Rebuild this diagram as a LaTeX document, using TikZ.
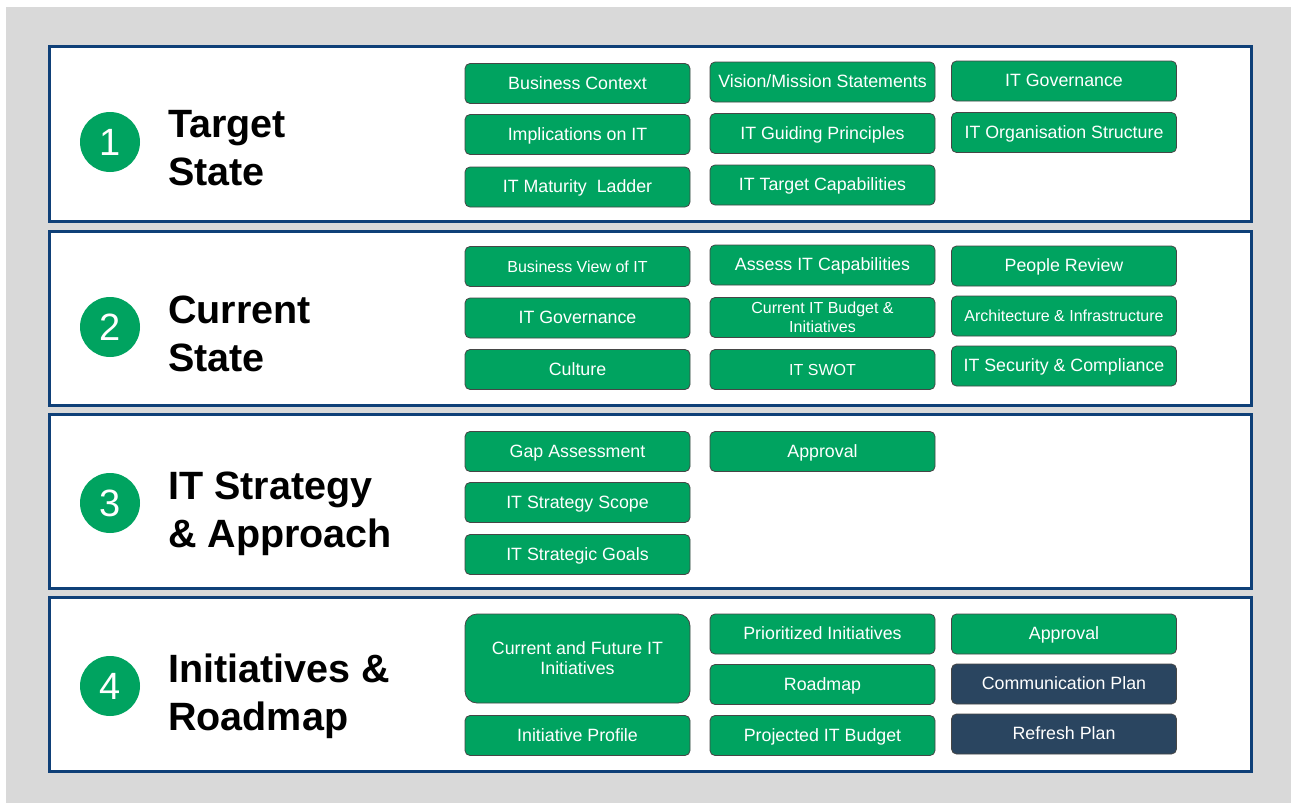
\documentclass[tikz,border=0pt]{standalone}
\usepackage{fontspec}
\setmainfont{Liberation Sans}
\usepackage{tikz}

\definecolor{bggray}{RGB}{217,217,217}
\definecolor{bandblue}{RGB}{15,64,120}
\definecolor{boxgreen}{RGB}{0,163,96}
\definecolor{boxnavy}{RGB}{42,69,96}
\definecolor{boxedge}{RGB}{70,70,70}

\begin{document}
\begin{tikzpicture}[x=1pt,y=-1pt,
		band/.style={draw=bandblue, line width=3pt, fill=white},
		num/.style={circle, fill=boxgreen, minimum size=60pt, inner sep=0pt, text=white, font=\fontsize{38}{38}\selectfont},
		ttl/.style={anchor=base west, inner sep=0pt, font=\fontsize{39.5}{48}\selectfont\bfseries},
		gbox/.style={draw=boxedge, line width=0.8pt, fill=boxgreen, rounded corners=5pt, minimum width=225pt, minimum height=40pt, inner sep=0pt, text=white, text height=12.5pt, text depth=1.5pt, font=\fontsize{17.8}{20}\selectfont},
		nbox/.style={gbox, fill=boxnavy},
		twoline/.style={align=center, text height=, text depth=},
		small/.style={font=\fontsize{16}{18.5}\selectfont}]
		  % background
		  \fill[white] (0,0) rectangle (1291,803);
		  \fill[bggray] (6,7) rectangle (1291,803);
		  % bands
		  \draw[band] (49,46) rectangle (1251,221);
		  \draw[band] (49,231) rectangle (1251,405);
		  \draw[band] (49,414) rectangle (1251,588);
		  \draw[band] (49,597) rectangle (1251,771);
		  % 1 target state
		  \node[num] (n1) at (110,142) {1};
		  \node[ttl] (t1a) at (168,137) {Target};
		  \node[ttl] (t1b) at (168,185) {State};
		  \node[gbox] (bc) at (577.5,83.5) {Business Context};
		  \node[gbox] (imp) at (577.5,134.5) {Implications on IT};
		  \node[gbox] (mat) at (577.5,187) {IT Maturity\ \ Ladder};
		  \node[gbox] (vis) at (822.5,82) {Vision/Mission Statements};
		  \node[gbox] (gp) at (822.5,133.5) {IT Guiding Principles};
		  \node[gbox] (tc) at (822.5,185) {IT Target Capabilities};
		  \node[gbox] (gov1) at (1064,81) {IT Governance};
		  \node[gbox] (org) at (1064,132.5) {IT Organisation Structure};
		  % 2 current state
		  \node[num] (n2) at (110,327) {2};
		  \node[ttl] (t2a) at (168,323) {Current};
		  \node[ttl] (t2b) at (168,371) {State};
		  \node[gbox, small] (bv) at (577.5,266.5) {Business View of IT};
		  \node[gbox] (gov2) at (577.5,318) {IT Governance};
		  \node[gbox] (cul) at (577.5,369.5) {Culture};
		  \node[gbox] (ac) at (822.5,265) {Assess IT Capabilities};
		  \node[gbox, small, twoline] (bud) at (822.5,317.5) {Current IT Budget \&\\Initiatives};
		  \node[gbox, small] (swot) at (822.5,369.5) {IT SWOT};
		  \node[gbox, small] (arch) at (1064,316) {Architecture \& Infrastructure};
		  \node[gbox] (ppl) at (1064,266) {People Review};
		  \node[gbox] (sec) at (1064,366) {IT Security \& Compliance};
		  % 3 it strategy
		  \node[num] (n3) at (110,503) {3};
		  \node[ttl] (t3a) at (168,499) {IT Strategy};
		  \node[ttl] (t3b) at (168,547) {\& Approach};
		  \node[gbox] (gap) at (577.5,451.5) {Gap Assessment};
		  \node[gbox] (scope) at (577.5,502.5) {IT Strategy Scope};
		  \node[gbox] (goals) at (577.5,554.5) {IT Strategic Goals};
		  \node[gbox] (appr3) at (822.5,451.5) {Approval};
		  % 4 initiatives
		  \node[num] (n4) at (110,686) {4};
		  \node[ttl] (t4a) at (168,682) {Initiatives \&};
		  \node[ttl] (t4b) at (168,730) {Roadmap};
		  \node[gbox, twoline, minimum height=89pt, rounded corners=12pt] (cfi) at (577.5,658.5) {Current and Future IT\\Initiatives};
		  \node[gbox] (prof) at (577.5,735.5) {Initiative Profile};
		  \node[gbox] (prio) at (822.5,634) {Prioritized Initiatives};
		  \node[gbox] (road) at (822.5,684.5) {Roadmap};
		  \node[gbox] (proj) at (822.5,735.5) {Projected IT Budget};
		  \node[gbox] (appr4) at (1064,634) {Approval};
		  \node[nbox] (comm) at (1064,684) {Communication Plan};
		  \node[nbox] (ref) at (1064,734) {Refresh Plan};
		\end{tikzpicture}
\end{document}
